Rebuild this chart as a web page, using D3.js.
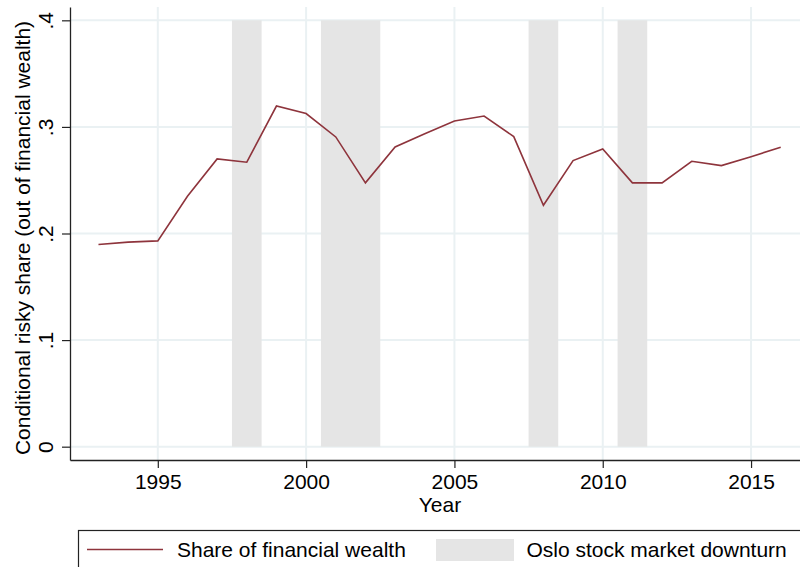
<!DOCTYPE html>
<html>
<head>
<meta charset="utf-8">
<script src="https://cdn.jsdelivr.net/npm/d3@7/dist/d3.min.js"></script>
<style>
  html, body { margin: 0; padding: 0; background: #fff; }
  svg { display: block; font-family: "Liberation Sans", Arial, Helvetica, sans-serif; }
</style>
</head>
<body>
<svg id="chart" width="800" height="567"></svg>
<script>
// Conditional risky share of financial wealth, by year
const years = [1993, 1994, 1995, 1996, 1997, 1998, 1999, 2000, 2001, 2002, 2003, 2004,
               2005, 2006, 2007, 2008, 2009, 2010, 2011, 2012, 2013, 2014, 2015, 2016];
const riskyShare = [0.1897, 0.1919, 0.1931, 0.2350, 0.2700, 0.2669, 0.3196, 0.3125,
                    0.2906, 0.2475, 0.2812, 0.2936, 0.3056, 0.3102, 0.2909, 0.2265,
                    0.2684, 0.2793, 0.2475, 0.2475, 0.2678, 0.2637, 0.2721, 0.2809];

// Oslo stock market downturn periods (start, end in years)
const downturnStart = [1997.5, 2000.5, 2007.5, 2010.5];
const downturnEnd   = [1998.5, 2002.5, 2008.5, 2011.5];

const xTicks = [1995, 2000, 2005, 2010, 2015];
const yTicks = [0, 0.1, 0.2, 0.3, 0.4];
const yTickLabels = ["0", ".1", ".2", ".3", ".4"];

const seriesLabel = "Share of financial wealth";
const bandLabel = "Oslo stock market downturn";

const lineColor = "#8e343c";
const bandColor = "#e5e5e5";
const gridColor = "#eaf1f3";
const fontSize = 21;

const svg = d3.select("#chart");

const plot = { left: 70, right: 800, top: 7, bottom: 460 };

const x = d3.scaleLinear()
  .domain([1992.04, 2016.65])
  .range([plot.left, plot.right]);
const y = d3.scaleLinear()
  .domain([-0.0125, 0.4125])
  .range([plot.bottom, plot.top]);

// grid lines
svg.append("g").selectAll("line.h")
  .data(yTicks).join("line")
  .attr("x1", plot.left).attr("x2", plot.right)
  .attr("y1", d => y(d)).attr("y2", d => y(d))
  .attr("stroke", gridColor).attr("stroke-width", 2);
svg.append("g").selectAll("line.v")
  .data(xTicks).join("line")
  .attr("y1", plot.top).attr("y2", plot.bottom)
  .attr("x1", d => x(d)).attr("x2", d => x(d))
  .attr("stroke", gridColor).attr("stroke-width", 2);

// downturn bands
svg.append("g").selectAll("rect")
  .data(downturnStart.map((s, i) => ({ s, e: downturnEnd[i] })))
  .join("rect")
  .attr("x", d => x(d.s))
  .attr("width", d => x(d.e) - x(d.s))
  .attr("y", y(0.4))
  .attr("height", y(0) - y(0.4))
  .attr("fill", bandColor);

// series line
const line = d3.line()
  .x((d, i) => x(years[i]))
  .y(d => y(d));
svg.append("path")
  .datum(riskyShare)
  .attr("d", line)
  .attr("fill", "none")
  .attr("stroke", lineColor)
  .attr("stroke-width", 1.6)
  .attr("stroke-linejoin", "miter");

// x axis
const xAxis = d3.axisBottom(x).tickValues(xTicks).tickFormat(d3.format("d"))
  .tickSize(8).tickPadding(6).tickSizeOuter(0);
const gx = svg.append("g")
  .attr("transform", `translate(0,${plot.bottom})`)
  .call(xAxis);
gx.select(".domain").attr("stroke", "#222").attr("stroke-width", 1.3);
gx.selectAll(".tick line").attr("stroke", "#222").attr("stroke-width", 1.2);
gx.selectAll(".tick text")
  .attr("font-size", fontSize).attr("font-family", "Liberation Sans, Arial, sans-serif")
  .attr("fill", "#000");

// y axis
const yAxis = d3.axisLeft(y).tickValues(yTicks).tickFormat((d, i) => yTickLabels[i])
  .tickSize(8).tickPadding(0).tickSizeOuter(0);
const gy = svg.append("g")
  .attr("transform", `translate(${plot.left},0)`)
  .call(yAxis);
gy.select(".domain").attr("stroke", "#222").attr("stroke-width", 1.3);
gy.selectAll(".tick line").attr("stroke", "#222").attr("stroke-width", 1.2);
gy.selectAll(".tick text")
  .attr("font-size", fontSize).attr("font-family", "Liberation Sans, Arial, sans-serif")
  .attr("fill", "#000")
  .attr("x", null).attr("dy", null)
  .attr("text-anchor", "middle")
  .attr("transform", "translate(-17,0) rotate(-90)");

// axis titles
svg.append("text")
  .attr("x", 440).attr("y", 512)
  .attr("text-anchor", "middle")
  .attr("font-size", fontSize)
  .text("Year");

svg.append("text")
  .attr("transform", "translate(29.5,238) rotate(-90)")
  .attr("text-anchor", "middle")
  .attr("font-size", fontSize)
  .text("Conditional risky share (out of financial wealth)");

// legend
const legend = svg.append("g");
legend.append("rect")
  .attr("x", 78.5).attr("y", 530.5)
  .attr("width", 740).attr("height", 60)
  .attr("fill", "#fff").attr("stroke", "#222").attr("stroke-width", 1.2);
legend.append("line")
  .attr("x1", 87).attr("x2", 163).attr("y1", 549.5).attr("y2", 549.5)
  .attr("stroke", lineColor).attr("stroke-width", 1.6);
legend.append("text")
  .attr("x", 177).attr("y", 557)
  .attr("font-size", fontSize)
  .text(seriesLabel);
legend.append("rect")
  .attr("x", 436).attr("y", 539)
  .attr("width", 78).attr("height", 22)
  .attr("fill", bandColor);
legend.append("text")
  .attr("x", 526.5).attr("y", 557)
  .attr("font-size", fontSize)
  .text(bandLabel);
</script>
</body>
</html>
